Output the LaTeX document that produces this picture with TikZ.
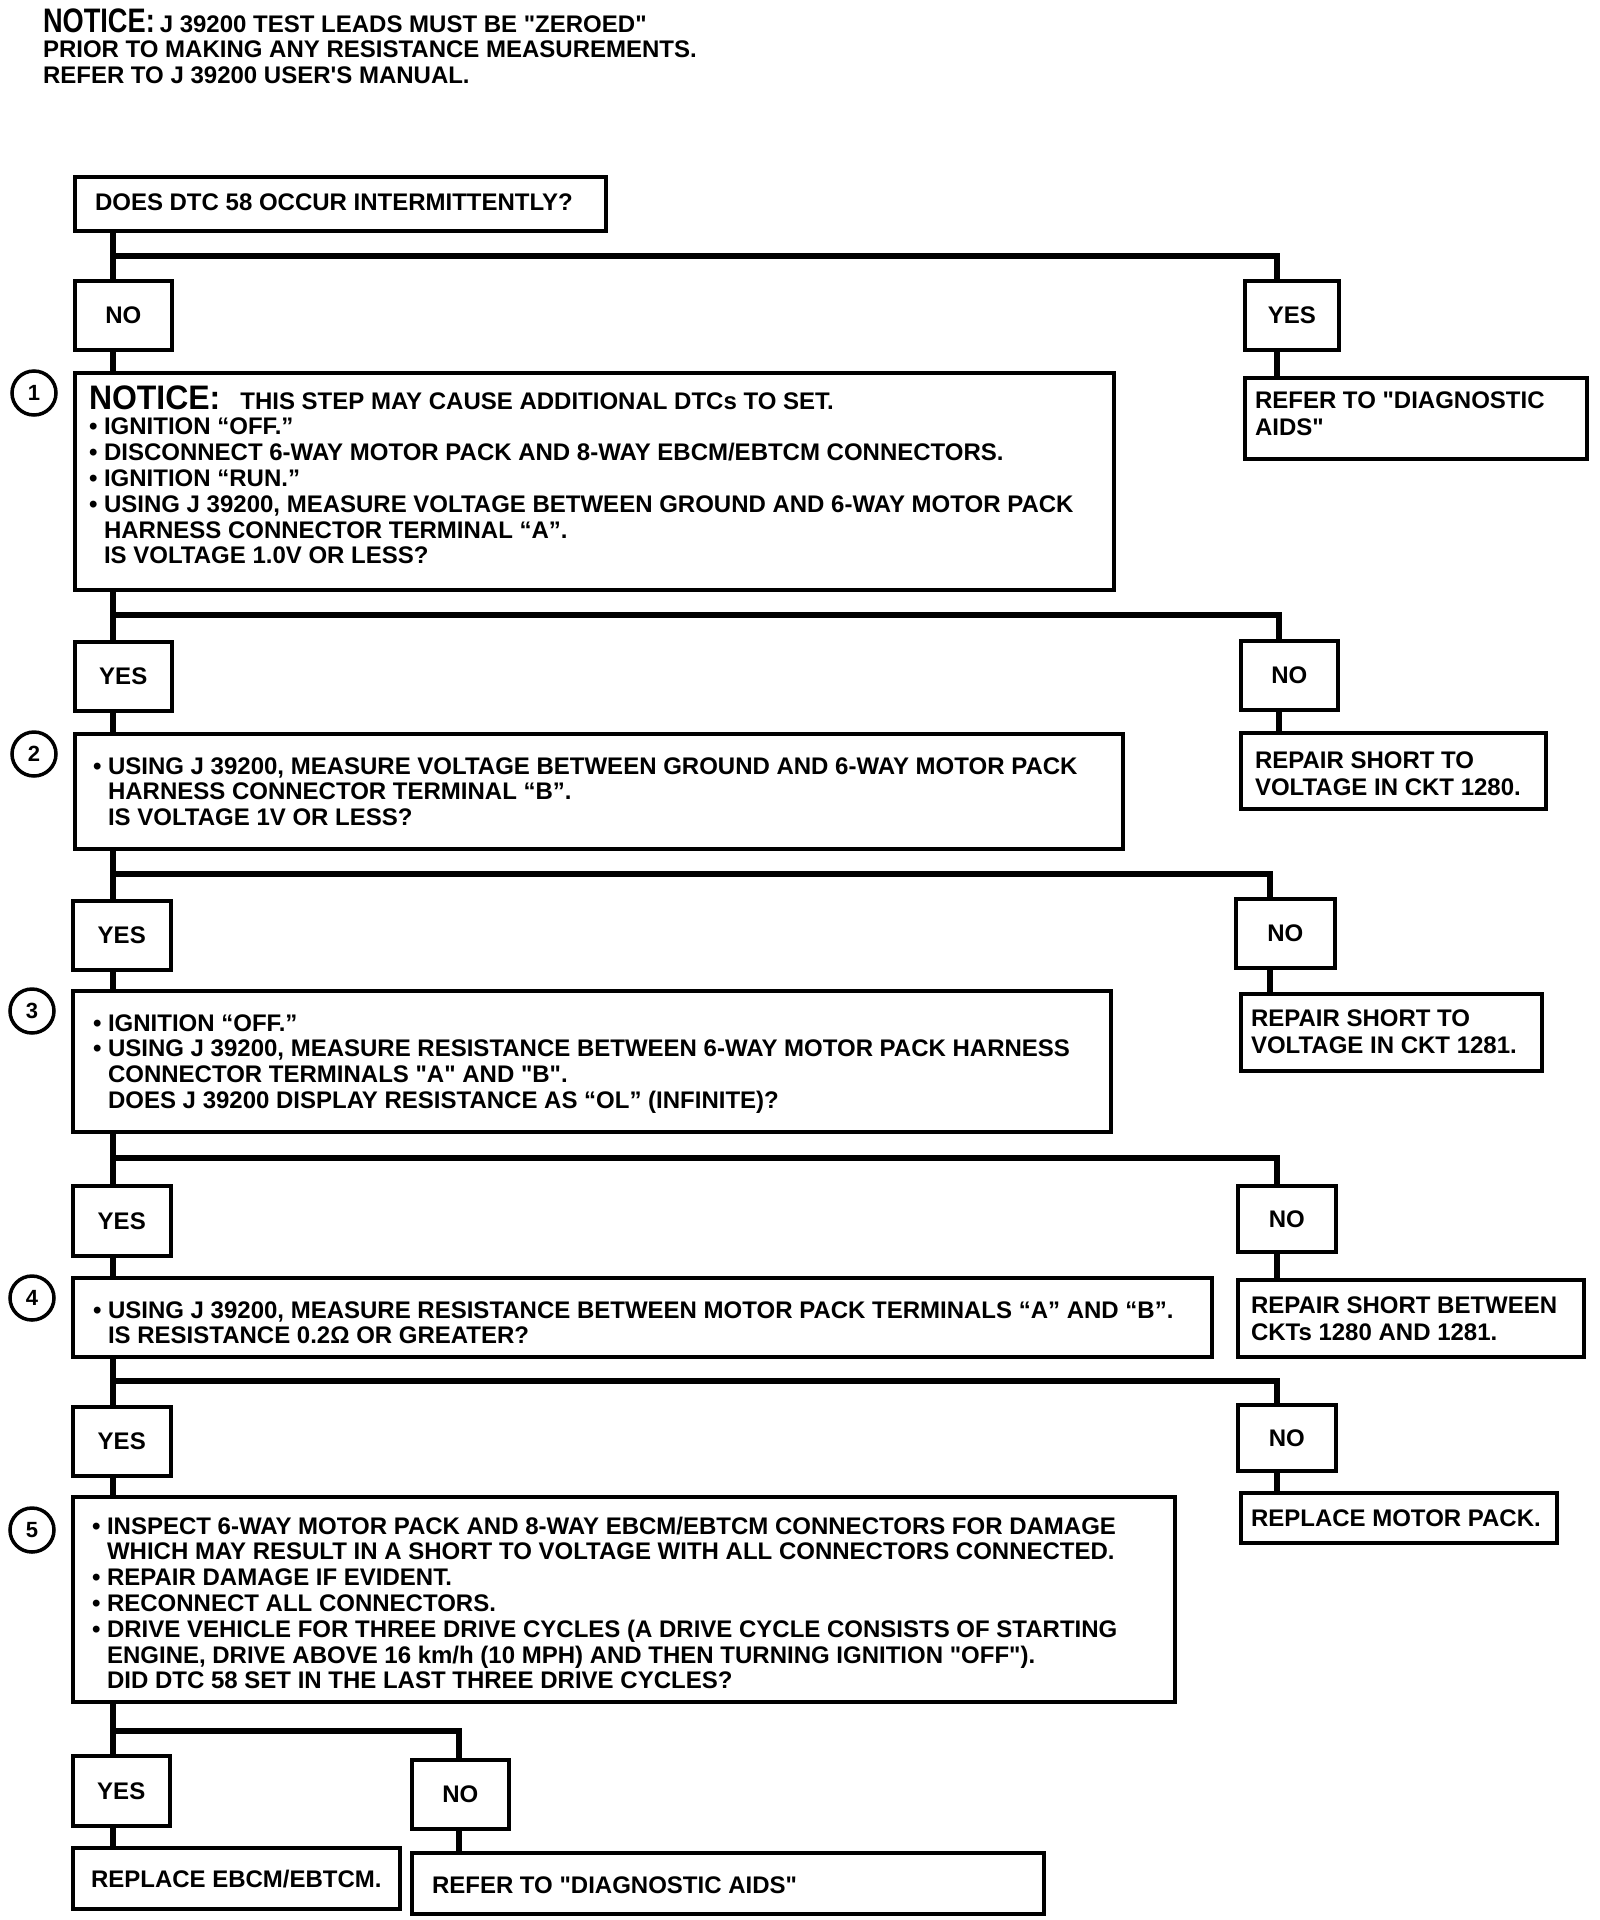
\documentclass[tikz,border=0pt]{standalone}
\usepackage{fontspec}
\setmainfont{Liberation Sans}[Ligatures=TeXOff]
\usepackage{graphicx}
\newcommand\bul{•\ }
\newcommand\ind{\hphantom{•\ }}
\newcommand\fs{\rule{0pt}{19pt}}
\newcommand\bignotice[1]{\scalebox{#1}[1]{\fontsize{34}{34}\selectfont NOTICE:}}
\tikzset{
  boxframe/.style={draw=black, fill=white, line width=3.5pt, rectangle, inner sep=0pt, anchor=north west},
  yn/.style={boxframe, font=\bfseries\fontsize{24}{26}\selectfont},
  txt/.style={inner sep=0pt, outer sep=0pt, align=left, anchor=north west, font=\bfseries\fontsize{24}{25.8}\selectfont},
  sidetxt/.style={txt, font=\bfseries\fontsize{24}{27}\selectfont},
  circ/.style={circle, draw=black, line width=3.5pt, minimum size=44pt, inner sep=0pt, fill=white, font=\bfseries\fontsize{22}{22}\selectfont},
  conn/.style={line width=6.5pt, line cap=rect, line join=miter}
}
\begin{document}
\begin{tikzpicture}[x=1pt,y=-1pt]
\fill[white] (0,0) rectangle (1600,1920);
\useasboundingbox (0,0) rectangle (1600,1920);

% header
\node[txt] (hdr) at (43,6) {\rule{0pt}{26pt}\bignotice{0.80}\hspace{5pt}J 39200 TEST LEADS MUST BE "ZEROED"\\
PRIOR TO MAKING ANY RESISTANCE MEASUREMENTS.\\
REFER TO J 39200 USER'S MANUAL.};

% junction coordinates
\coordinate (j1) at (113,256);  \coordinate (k1) at (1277,256);
\coordinate (j2) at (113,615);  \coordinate (k2) at (1279,615);
\coordinate (j3) at (113,874);  \coordinate (k3) at (1270,874);
\coordinate (j4) at (113,1158); \coordinate (k4) at (1277,1158);
\coordinate (j5) at (113,1381); \coordinate (k5) at (1277,1381);
\coordinate (j6) at (113,1731); \coordinate (k6) at (459,1731);

% boxes
\node[boxframe, minimum width=531pt, minimum height=54pt] (q0) at (73,175) {};
\node[yn, minimum width=97pt, minimum height=69pt] (no1) at (73,279) {NO};
\node[yn, minimum width=94pt, minimum height=69pt] (yes1) at (1243,279) {YES};
\node[boxframe, minimum width=1039pt, minimum height=217pt] (b1) at (73,371) {};
\node[boxframe, minimum width=342pt, minimum height=81pt] (refer1) at (1243,376) {};

\node[yn, minimum width=97pt, minimum height=69pt] (yes2) at (73,640) {YES};
\node[yn, minimum width=97pt, minimum height=69pt] (no2) at (1239,639) {NO};
\node[boxframe, minimum width=1048pt, minimum height=115pt] (b2) at (73,732) {};
\node[boxframe, minimum width=305pt, minimum height=76pt] (r1280) at (1239,731) {};

\node[yn, minimum width=98pt, minimum height=69pt] (yes3) at (71,899) {YES};
\node[yn, minimum width=99pt, minimum height=69pt] (no3) at (1234,897) {NO};
\node[boxframe, minimum width=1038pt, minimum height=141pt] (b3) at (71,989) {};
\node[boxframe, minimum width=301pt, minimum height=77pt] (r1281) at (1239,992) {};

\node[yn, minimum width=98pt, minimum height=70pt] (yes4) at (71,1184) {YES};
\node[yn, minimum width=98pt, minimum height=66pt] (no4) at (1236,1184) {NO};
\node[boxframe, minimum width=1139pt, minimum height=79pt] (b4) at (71,1276) {};
\node[boxframe, minimum width=346pt, minimum height=77pt] (rbetween) at (1236,1278) {};

\node[yn, minimum width=98pt, minimum height=69pt] (yes5) at (71,1405) {YES};
\node[yn, minimum width=98pt, minimum height=66pt] (no5) at (1236,1403) {NO};
\node[boxframe, minimum width=1102pt, minimum height=205pt] (b5) at (71,1495) {};
\node[boxframe, minimum width=316pt, minimum height=50pt] (rmotor) at (1239,1491) {};

\node[yn, minimum width=97pt, minimum height=70pt] (yes6) at (71,1754) {YES};
\node[yn, minimum width=97pt, minimum height=69pt] (no6) at (410,1758) {NO};
\node[boxframe, minimum width=327pt, minimum height=61pt] (rebcm) at (71,1846) {};
\node[boxframe, minimum width=632pt, minimum height=61pt] (raids) at (410,1851) {};

% circles
\node[circ] (c1) at (34,393) {1};
\node[circ] (c2) at (34,754) {2};
\node[circ] (c3) at (32,1011) {3};
\node[circ] (c4) at (32,1298) {4};
\node[circ] (c5) at (32,1530) {5};

% texts
\node[txt] (tq0) at (95,191) {\fs DOES DTC 58 OCCUR INTERMITTENTLY?};
\node[txt] (t1) at (89,383) {\rule{0pt}{26pt}\bignotice{0.94}\hspace{20pt}THIS STEP MAY CAUSE ADDITIONAL DTCs TO SET.\\
\bul IGNITION “OFF.”\\
\bul DISCONNECT 6-WAY MOTOR PACK AND 8-WAY EBCM/EBTCM CONNECTORS.\\
\bul IGNITION “RUN.”\\
\bul USING J 39200, MEASURE VOLTAGE BETWEEN GROUND AND 6-WAY MOTOR PACK\\
\ind HARNESS CONNECTOR TERMINAL “A”.\\
\ind IS VOLTAGE 1.0V OR LESS?};
\node[sidetxt] (trefer1) at (1255,389) {\fs REFER TO "DIAGNOSTIC\\ AIDS"};

\node[txt] (t2) at (93,755) {\fs\bul USING J 39200, MEASURE VOLTAGE BETWEEN GROUND AND 6-WAY MOTOR PACK\\
\ind HARNESS CONNECTOR TERMINAL “B”.\\
\ind IS VOLTAGE 1V OR LESS?};
\node[sidetxt] (tr1280) at (1255,749) {\fs REPAIR SHORT TO\\ VOLTAGE IN CKT 1280.};

\node[txt] (t3) at (93,1012) {\fs\bul IGNITION “OFF.”\\
\bul USING J 39200, MEASURE RESISTANCE BETWEEN 6-WAY MOTOR PACK HARNESS\\
\ind CONNECTOR TERMINALS "A" AND "B".\\
\ind DOES J 39200 DISPLAY RESISTANCE AS “OL” (INFINITE)?};
\node[sidetxt] (tr1281) at (1251,1007) {\fs REPAIR SHORT TO\\ VOLTAGE IN CKT 1281.};

\node[txt] (t4) at (93,1299) {\fs\bul USING J 39200, MEASURE RESISTANCE BETWEEN MOTOR PACK TERMINALS “A” AND “B”.\\
\ind IS RESISTANCE 0.2Ω OR GREATER?};
\node[sidetxt] (trbetween) at (1251,1294) {\fs REPAIR SHORT BETWEEN\\ CKTs 1280 AND 1281.};

\node[txt] (t5) at (92,1515) {\fs\bul INSPECT 6-WAY MOTOR PACK AND 8-WAY EBCM/EBTCM CONNECTORS FOR DAMAGE\\
\ind WHICH MAY RESULT IN A SHORT TO VOLTAGE WITH ALL CONNECTORS CONNECTED.\\
\bul REPAIR DAMAGE IF EVIDENT.\\
\bul RECONNECT ALL CONNECTORS.\\
\bul DRIVE VEHICLE FOR THREE DRIVE CYCLES (A DRIVE CYCLE CONSISTS OF STARTING\\
\ind ENGINE, DRIVE ABOVE 16 km/h (10 MPH) AND THEN TURNING IGNITION "OFF").\\
\ind DID DTC 58 SET IN THE LAST THREE DRIVE CYCLES?};
\node[sidetxt] (trmotor) at (1251,1507) {\fs REPLACE MOTOR PACK.};

\node[txt] (trebcm) at (91,1868) {\fs REPLACE EBCM/EBTCM.};
\node[txt] (traids) at (432,1874) {\fs REFER TO "DIAGNOSTIC AIDS"};

% connectors
\draw[conn] (q0.south -| j1) -- (no1.north -| j1);
\draw[conn] (j1) -- (k1) -- (yes1.north -| k1);
\draw[conn] (no1.south -| j1) -- (b1.north -| j1);
\draw[conn] (yes1.south -| k1) -- (refer1.north -| k1);

\draw[conn] (b1.south -| j2) -- (yes2.north -| j2);
\draw[conn] (j2) -- (k2) -- (no2.north -| k2);
\draw[conn] (yes2.south -| j2) -- (b2.north -| j2);
\draw[conn] (no2.south -| k2) -- (r1280.north -| k2);

\draw[conn] (b2.south -| j3) -- (yes3.north -| j3);
\draw[conn] (j3) -- (k3) -- (no3.north -| k3);
\draw[conn] (yes3.south -| j3) -- (b3.north -| j3);
\draw[conn] (no3.south -| k3) -- (r1281.north -| k3);

\draw[conn] (b3.south -| j4) -- (yes4.north -| j4);
\draw[conn] (j4) -- (k4) -- (no4.north -| k4);
\draw[conn] (yes4.south -| j4) -- (b4.north -| j4);
\draw[conn] (no4.south -| k4) -- (rbetween.north -| k4);

\draw[conn] (b4.south -| j5) -- (yes5.north -| j5);
\draw[conn] (j5) -- (k5) -- (no5.north -| k5);
\draw[conn] (yes5.south -| j5) -- (b5.north -| j5);
\draw[conn] (no5.south -| k5) -- (rmotor.north -| k5);

\draw[conn] (b5.south -| j6) -- (yes6.north -| j6);
\draw[conn] (j6) -- (k6) -- (no6.north -| k6);
\draw[conn] (yes6.south -| j6) -- (rebcm.north -| j6);
\draw[conn] (no6.south -| k6) -- (raids.north -| k6);
\end{tikzpicture}
\end{document}
